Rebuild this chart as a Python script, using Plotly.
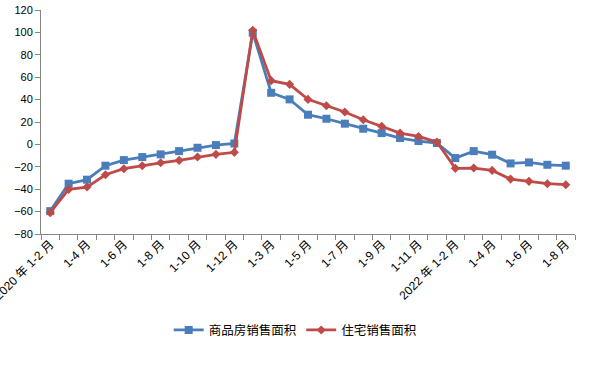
import plotly.graph_objects as go

categories = ["2020 年 1-2 月", "1-3 月", "1-4 月", "1-5 月", "1-6 月", "1-7 月", "1-8 月", "1-9 月",
              "1-10 月", "1-11 月", "1-12 月",
              "2021 年 1-2 月", "1-3 月", "1-4 月", "1-5 月", "1-6 月", "1-7 月", "1-8 月", "1-9 月",
              "1-10 月", "1-11 月", "1-12 月",
              "2022 年 1-2 月", "1-3 月", "1-4 月", "1-5 月", "1-6 月", "1-7 月", "1-8 月"]
commercial = [-59.6, -35.1, -31.5, -19.0, -14.0, -11.3, -8.9, -6.0, -3.0, -0.6, 0.8,
              99.7, 46.1, 40.2, 26.5, 22.9, 18.5, 14.0, 10.1, 5.7, 3.0, 1.2,
              -12.2, -6.0, -9.2, -17.0, -16.1, -18.2, -19.0]
residential = [-61.0, -40.2, -38.1, -27.1, -21.7, -19.0, -16.4, -14.3, -11.3, -8.9, -7.1,
               101.8, 56.9, 53.6, 40.2, 34.5, 28.9, 22.0, 16.1, 10.1, 7.1, 2.1,
               -21.4, -21.1, -23.2, -31.0, -33.0, -35.1, -36.0]
series_names = ["商品房销售面积", "住宅销售面积"]
y_ticks = [-80, -60, -40, -20, 0, 20, 40, 60, 80, 100, 120]

idx = list(range(len(categories)))
label_idx = idx[::2]
label_text = [categories[i] for i in label_idx]

FONT = "Liberation Sans, Arial, Noto Sans CJK SC, sans-serif"
AXIS = "#868686"

fig = go.Figure()
fig.add_trace(go.Scatter(x=idx, y=commercial, name=series_names[0], mode="lines+markers",
                         line=dict(color="#4A7EBB", width=2.8),
                         marker=dict(symbol="square", size=8, color="#4A7EBB")))
fig.add_trace(go.Scatter(x=idx, y=residential, name=series_names[1], mode="lines+markers",
                         line=dict(color="#BE4B48", width=2.8),
                         marker=dict(symbol="diamond", size=7, color="#BE4B48")))
# invisible trace so the label axis is drawn
fig.add_trace(go.Scatter(x=[label_idx[0]], y=[None], xaxis="x2", showlegend=False, hoverinfo="skip"))

rng = [-0.5, len(categories) - 0.5]
fig.update_layout(
    width=589, height=372,
    margin=dict(l=41, r=14, t=10, b=138, autoexpand=False),
    paper_bgcolor="white", plot_bgcolor="white",
    font=dict(family=FONT, size=11, color="black"),
    showlegend=True,
    legend=dict(orientation="h", x=0.476, xanchor="center",
                y=-0.43, yanchor="middle", font=dict(size=12.5, family=FONT),
                itemwidth=30, tracegroupgap=0),
    xaxis=dict(range=rng, tickmode="array", tickvals=[i - 0.5 for i in range(len(categories) + 1)],
               showticklabels=False, ticks="outside", ticklen=5, tickcolor=AXIS,
               showline=True, linecolor=AXIS, linewidth=1, showgrid=False, zeroline=False,
               automargin=False),
    xaxis2=dict(range=rng, overlaying="x", anchor="y", side="bottom", tickmode="array",
                tickvals=label_idx, ticktext=label_text, tickangle=-45, ticks="",
                showline=False, showgrid=False, zeroline=False, automargin=False,
                ticklabeloverflow="allow", tickfont=dict(size=12, family=FONT)),
    yaxis=dict(range=[-80, 120], tickmode="array", tickvals=y_ticks, ticks="outside",
               ticklen=5, tickcolor=AXIS, showline=True, linecolor=AXIS, linewidth=1,
               showgrid=False, zeroline=False, automargin=False, ticklabeloverflow="allow",
               tickfont=dict(size=11, family=FONT)),
)

fig.write_html("out.html", config={"displayModeBar": False},
               post_script="document.body.style.margin='0';")
